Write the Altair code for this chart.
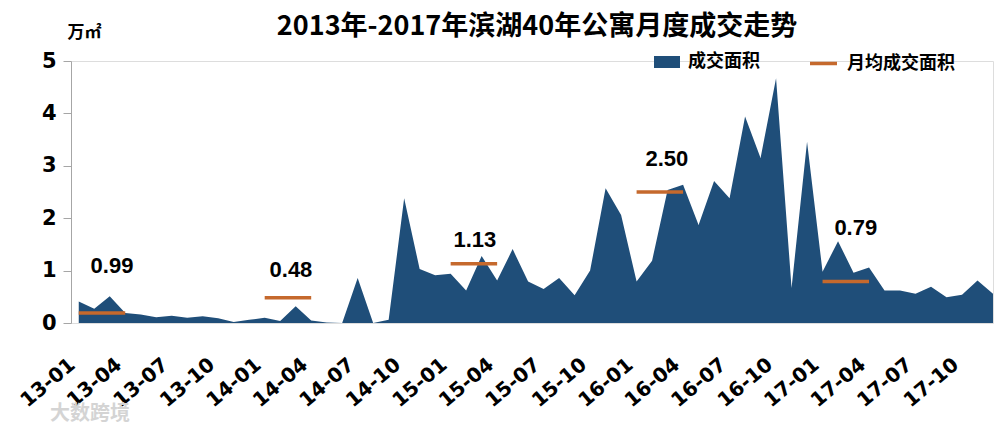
import json
import altair as alt
import pandas as pd

# ---------------- data ----------------
months = [f"{y:02d}-{m:02d}" for y in range(13, 18) for m in range(1, 13)]
area_values = [
    0.41, 0.27, 0.51, 0.19, 0.16, 0.11, 0.14, 0.10, 0.13, 0.09, 0.02, 0.06,
    0.10, 0.04, 0.32, 0.05, 0.01, 0.00, 0.86, 0.00, 0.06, 2.38, 1.03, 0.91,
    0.94, 0.62, 1.28, 0.81, 1.41, 0.79, 0.65, 0.86, 0.53, 1.00, 2.57, 2.06,
    0.79, 1.19, 2.54, 2.64, 1.87, 2.71, 2.38, 3.94, 3.15, 4.67, 0.67, 3.46,
    0.98, 1.56, 0.96, 1.06, 0.62, 0.62, 0.56, 0.69, 0.49, 0.54, 0.81, 0.56,
]
tick_labels = months[::3]
year_start = [0, 12, 24, 36, 48]
year_end = [3, 15, 27, 39, 51]
avg_line = [0.19, 0.48, 1.13, 2.50, 0.79]
avg_text = ["0.99", "0.48", "1.13", "2.50", "0.79"]
# label offsets (px) of the value labels from the middle of each segment
label_dx = [10, 3, 1, 7, 10]
label_dy = [-47, -28, -24, -33, -54]

BLUE = "#1f4e79"
ORANGE = "#c5692d"

area_df = pd.DataFrame({
    "idx": list(range(len(months))),
    "month": months,
    "value": area_values,
    "series": "成交面积",
})
avg_df = pd.DataFrame({
    "k": list(range(len(avg_line))),
    "start": year_start,
    "end": year_end,
    "avg": avg_line,
    "text": avg_text,
    "series": "月均成交面积",
})

x_scale = alt.Scale(domain=[-0.5, len(months) - 1], nice=False, zero=False)
y_scale = alt.Scale(domain=[0, 5], nice=False)

x_axis = alt.Axis(
    values=list(range(0, len(months), 3)),
    labelExpr=f"{json.dumps(tick_labels)}[datum.value / 3]",
    labelAngle=-40, labelAlign="right", labelBaseline="top",
    labelPadding=31, labelOffset=-13, labelFontSize=20,
    labelFont="DejaVu Sans", labelFontWeight="bold", labelColor="black",
    ticks=False, domain=False, grid=False, title=None,
    labelOverlap=False, labelFlush=False, labelBound=False,
)
y_axis = alt.Axis(
    values=[0, 1, 2, 3, 4, 5], labelFontSize=21, labelFont="DejaVu Sans",
    labelFontWeight="bold", labelColor="black", tickSize=8,
    tickColor="#a6a6a6", domainColor="#a6a6a6", grid=False, labelPadding=7,
    title="万㎡", titleAngle=0, titleX=-4, titleY=-29, titleAlign="left",
    titleBaseline="middle", titleFont="Noto Sans CJK SC", titleFontSize=17,
    titleFontWeight="bold", titleColor="black",
)

area = alt.Chart(area_df).mark_area(interpolate="linear").encode(
    x=alt.X("idx:Q", scale=x_scale, axis=x_axis),
    y=alt.Y("value:Q", scale=y_scale, axis=y_axis),
    fill=alt.Fill(
        "series:N",
        scale=alt.Scale(domain=["成交面积"], range=[BLUE]),
        legend=alt.Legend(
            orient="none", legendX=583, legendY=-12, title=None,
            symbolType="M-1,-0.46L1,-0.46L1,0.46L-1,0.46Z", symbolSize=676,
            symbolStrokeWidth=0, labelFont="Noto Sans CJK SC", labelFontSize=18,
            labelFontWeight="bold", labelColor="black", labelOffset=8, padding=0,
        ),
    ),
)

rule = alt.Chart(avg_df).mark_rule(strokeWidth=3.5).encode(
    x=alt.X("start:Q", scale=x_scale),
    x2="end:Q",
    y=alt.Y("avg:Q", scale=y_scale),
    stroke=alt.Stroke(
        "series:N",
        scale=alt.Scale(domain=["月均成交面积"], range=[ORANGE]),
        legend=alt.Legend(
            orient="none", legendX=737, legendY=-13, title=None,
            symbolType="stroke", symbolSize=729, symbolStrokeWidth=3.5,
            labelFont="Noto Sans CJK SC", labelFontSize=18,
            labelFontWeight="bold", labelColor="black", labelOffset=8, padding=0,
        ),
    ),
)

label_layers = []
for k in range(len(avg_text)):
    label_layers.append(
        alt.Chart(avg_df)
        .transform_filter(alt.datum.k == k)
        .transform_calculate(mid="(datum.start + datum.end) / 2")
        .mark_text(
            font="Liberation Sans", fontSize=22, fontWeight="bold",
            color="black", baseline="middle", align="center",
            dx=label_dx[k], dy=label_dy[k],
        )
        .encode(
            x=alt.X("mid:Q", scale=x_scale),
            y=alt.Y("avg:Q", scale=y_scale),
            text="text:N",
        )
    )

watermark = alt.Chart(pd.DataFrame({"t": ["大数跨境"]})).mark_text(
    font="Noto Sans CJK SC", fontSize=20, fontWeight="bold", color="#d4d4d4",
    align="left", baseline="middle",
).encode(x=alt.value(-21), y=alt.value(353), text="t:N")

chart = alt.layer(area, rule, *label_layers, watermark).properties(
    width=922,
    height=262,
    title=alt.TitleParams(
        "2013年-2017年滨湖40年公寓月度成交走势",
        font="Noto Sans CJK SC", fontSize=27, fontWeight="bold", color="black",
        anchor="middle", frame="group", offset=-18, dx=5,
    ),
    padding={"left": 63, "top": 53, "right": 4, "bottom": 102},
    autosize=alt.AutoSizeParams(type="none"),
).configure_view(stroke=None).configure(background="white")

chart.save("out.html", embed_options={"renderer": "svg", "actions": False})
